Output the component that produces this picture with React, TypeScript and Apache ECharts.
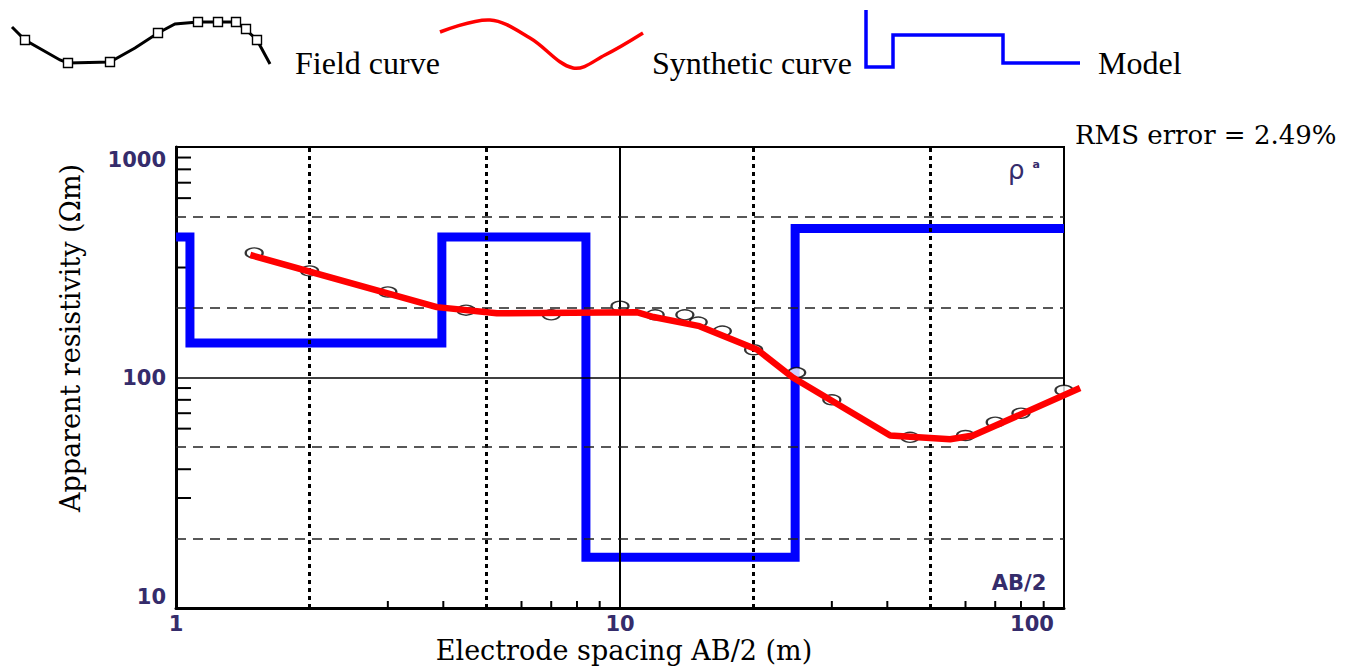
import { useEffect, useRef } from 'react';
import * as echarts from 'echarts';

// ---- axis ranges / ticks ----
const X_MIN = 1;
const X_MAX = 100;
const Y_MIN = 10;
const Y_MAX = 1000;
const xTickLabels = ['1', '10', '100'];
const yTickLabels = ['10', '100', '1000'];
const xMinorTicks = [3, 4, 6, 7, 8, 9, 30, 40, 60, 70, 80, 90];
const yMinorTicks = [30, 40, 60, 70, 80, 90, 300, 400, 600, 700, 800, 900];
const xDotted = [2, 5, 20, 50];
const xSolid = [10];
const yDashed = [20, 50, 200, 500];
const ySolid = [100];

// ---- field data (AB/2, apparent resistivity) ----
const spacing = [1.5, 2, 3, 4.5, 7, 10, 12, 14, 15, 17, 20, 25, 30, 45, 60, 70, 80, 100];
const fieldRho = [347, 290, 235, 196, 187, 204, 187, 187, 174, 159, 132, 105, 80, 55, 56, 64, 70, 88];

// ---- synthetic curve ----
const synthX = [1.47, 3.87, 5.28, 10.9, 11.9, 15.1, 20.4, 24.5, 40.6, 55.4, 62.4, 108.7];
const synthRho = [340, 202, 190, 192, 183, 167, 132, 100, 56, 54, 56, 90];

// ---- layered model ----
const modelBounds = [1.075, 3.97, 8.38, 24.8];
const modelRho = [407, 141, 407, 16.6, 443];

const labelColor = '#352c6b';

export default function App() {
  const ref = useRef<HTMLDivElement>(null);

  useEffect(() => {
    const chart = echarts.init(ref.current!, null, { renderer: 'svg' });

    const edges = [X_MIN, ...modelBounds, X_MAX];
    const modelPts: number[][] = [];
    modelRho.forEach((r, i) => {
      modelPts.push([edges[i], r], [edges[i + 1], r]);
    });

    const fieldPts = spacing.map((x, i) => [x, fieldRho[i]]);
    const synthPts = synthX.map((x, i) => [x, synthRho[i]]);

    const dotted = { type: [4, 4] as any, color: '#000', width: 3 };
    const dashed = { type: [10, 7] as any, color: '#222', width: 1.6 };
    const solid = { type: 'solid' as any, color: '#000', width: 2 };

    const markData: any[] = [
      ...xDotted.map((v) => ({ xAxis: v, lineStyle: dotted })),
      ...xSolid.map((v) => ({ xAxis: v, lineStyle: solid })),
      ...yDashed.map((v) => ({ yAxis: v, lineStyle: dashed })),
      ...ySolid.map((v) => ({ yAxis: v, lineStyle: { ...solid, width: 1.6 } })),
    ];

    const serif = 'DejaVu Serif';
    const legendFont = 'Liberation Serif';
    const tickFont = { fontFamily: 'DejaVu Sans', fontSize: 21, fontWeight: 'bold', color: labelColor, lineHeight: 20 };

    const fieldIcon = [[12, 27], [25, 40], [60, 60], [68, 63], [110, 62], [135, 48], [158, 33], [175, 24], [198, 22], [236, 22], [244, 28], [257, 40], [270, 64]];
    const fieldSquares = [[25, 40], [68, 63], [110, 62], [158, 33], [198, 22], [218, 22], [236, 22], [246, 29], [257, 40]];

    const option: any = {
      animation: false,
      backgroundColor: '#fff',
      grid: {
        left: 176,
        top: 147,
        width: 888,
        height: 461,
        show: true,
        borderColor: '#000',
        borderWidth: 2,
        containLabel: false,
      },
      xAxis: {
        type: 'log',
        logBase: 10,
        min: X_MIN,
        max: X_MAX,
        axisLine: { show: true, onZero: false, lineStyle: { color: '#000', width: 3 } },
        axisTick: { show: false },
        splitLine: { show: false },
        axisLabel: {
          show: true,
          margin: 6,
          showMinLabel: true,
          showMaxLabel: true,
          formatter: (v: number) => {
            const s = String(Math.round(v));
            if (!xTickLabels.includes(s)) return '';
            return s === '100' ? `{t|${s}}{sp| }` : `{t|${s}}`;
          },
          rich: {
            t: tickFont,
            sp: { width: 64, fontSize: 10 },
          },
        },
      },
      yAxis: {
        type: 'log',
        logBase: 10,
        min: Y_MIN,
        max: Y_MAX,
        axisLine: { show: true, onZero: false, lineStyle: { color: '#000', width: 3 } },
        axisTick: { show: false },
        splitLine: { show: false },
        axisLabel: {
          show: true,
          margin: 10,
          showMinLabel: true,
          showMaxLabel: true,
          formatter: (v: number) => {
            const s = String(Math.round(v));
            if (!yTickLabels.includes(s)) return '';
            if (s === '1000') return `{s| }\n{t|${s}}`;
            if (s === '10') return `{t|${s}}\n{s2| }`;
            return `{t|${s}}`;
          },
          rich: {
            t: tickFont,
            s: { fontSize: 10, lineHeight: 26 },
            s2: { fontSize: 10, lineHeight: 22 },
          },
        },
      },
      series: [
        {
          name: 'gridlines',
          type: 'line',
          data: [[X_MIN, Y_MIN]],
          symbol: 'none',
          lineStyle: { width: 0 },
          silent: true,
          z: 1,
          markLine: {
            silent: true,
            symbol: ['none', 'none'],
            label: { show: false },
            data: markData,
          },
        },
        {
          name: 'yticks',
          type: 'custom',
          z: 2,
          silent: true,
          data: yMinorTicks.map((v) => [X_MIN, v]),
          renderItem: (_p: any, api: any) => {
            const p = api.coord([X_MIN, api.value(1)]);
            return {
              type: 'line',
              shape: { x1: p[0], y1: p[1], x2: p[0] + 15, y2: p[1] },
              style: { stroke: '#000', lineWidth: 2 },
            };
          },
        },
        {
          name: 'xticks',
          type: 'custom',
          z: 2,
          silent: true,
          data: xMinorTicks.map((v) => [v, Y_MIN]),
          renderItem: (_p: any, api: any) => {
            const p = api.coord([api.value(0), Y_MIN]);
            return {
              type: 'line',
              shape: { x1: p[0], y1: p[1], x2: p[0], y2: p[1] - 7 },
              style: { stroke: '#000', lineWidth: 2 },
            };
          },
        },
        {
          name: 'Model',
          type: 'line',
          data: modelPts,
          symbol: 'none',
          z: 3,
          lineStyle: { color: '#0000ff', width: 9, join: 'miter', cap: 'butt' },
        },
        {
          name: 'Field curve',
          type: 'scatter',
          data: fieldPts,
          symbol: 'circle',
          symbolSize: [17, 10],
          z: 4,
          itemStyle: { color: '#fff', borderColor: '#000', borderWidth: 1.8 },
        },
        {
          name: 'Synthetic curve',
          type: 'custom',
          data: synthPts,
          clip: false,
          z: 5,
          silent: true,
          renderItem: (params: any, api: any) => {
            if (params.dataIndex !== 0) return null;
            const pts = synthPts.map((d) => api.coord(d));
            return {
              type: 'polyline',
              shape: { points: pts },
              style: { stroke: '#ff0000', lineWidth: 6.5, fill: null, lineJoin: 'round' },
            };
          },
        },
      ],
      graphic: [
        // legend: field curve icon
        {
          type: 'polyline',
          shape: { points: fieldIcon },
          style: { stroke: '#000', lineWidth: 3, fill: 'none' },
          z: 10,
        },
        ...fieldSquares.map((p) => ({
          type: 'rect',
          shape: { x: p[0] - 4.5, y: p[1] - 4.5, width: 9, height: 9 },
          style: { fill: '#fff', stroke: '#000', lineWidth: 1.4 },
          z: 11,
        })),
        {
          type: 'text',
          x: 295,
          y: 63,
          style: { text: 'Field curve', font: `32px "${legendFont}"`, fill: '#000', verticalAlign: 'middle' },
        },
        // legend: synthetic curve icon
        {
          type: 'polyline',
          shape: { points: [[440, 32], [490, 20], [530, 38], [573, 68], [605, 55], [643, 33]], smooth: 0.35 },
          style: { stroke: '#ff0000', lineWidth: 3.5, fill: 'none' },
          z: 10,
        },
        {
          type: 'text',
          x: 652,
          y: 63,
          style: { text: 'Synthetic curve', font: `32px "${legendFont}"`, fill: '#000', verticalAlign: 'middle' },
        },
        // legend: model icon
        {
          type: 'polyline',
          shape: { points: [[866, 10], [866, 67], [893, 67], [893, 35], [1003, 35], [1003, 63], [1080, 63]] },
          style: { stroke: '#0000ff', lineWidth: 3.5, fill: 'none', lineJoin: 'miter' },
          z: 10,
        },
        {
          type: 'text',
          x: 1098,
          y: 63,
          style: { text: 'Model', font: `32px "${legendFont}"`, fill: '#000', verticalAlign: 'middle' },
        },
        {
          type: 'text',
          x: 1075,
          y: 135,
          style: { text: 'RMS error = 2.49%', font: `26px "${serif}"`, fill: '#000', verticalAlign: 'middle' },
        },
        // axis titles
        {
          type: 'text',
          x: 624,
          y: 650,
          style: {
            text: 'Electrode spacing AB/2 (m)',
            font: `27px "${serif}"`,
            fill: '#000',
            align: 'center',
            verticalAlign: 'middle',
          },
        },
        {
          type: 'text',
          x: 70,
          y: 338,
          rotation: Math.PI / 2,
          style: {
            text: 'Apparent resistivity (Ωm)',
            font: `27px "${serif}"`,
            fill: '#000',
            align: 'center',
            verticalAlign: 'middle',
          },
        },
        // in-plot annotations
        {
          type: 'text',
          x: 1008,
          y: 170,
          z: 12,
          style: {
            text: '{r|ρ}{a|a}',
            verticalAlign: 'middle',
            rich: {
              r: { fontFamily: 'DejaVu Sans', fontSize: 26, fill: labelColor },
              a: { fontFamily: 'DejaVu Sans', fontSize: 11, fontWeight: 'bold', fill: labelColor, padding: [0, 0, 12, 8] },
            },
          },
        },
        {
          type: 'text',
          x: 1019,
          y: 583,
          z: 12,
          style: {
            text: 'AB/2',
            font: 'bold 21px "DejaVu Sans"',
            fill: labelColor,
            align: 'center',
            verticalAlign: 'middle',
          },
        },
      ],
    };

    chart.setOption(option);
    return () => chart.dispose();
  }, []);

  return (
    <div
      ref={ref}
      style={{ position: 'absolute', left: 0, top: 0, width: 1352, height: 668, background: '#fff' }}
    />
  );
}
